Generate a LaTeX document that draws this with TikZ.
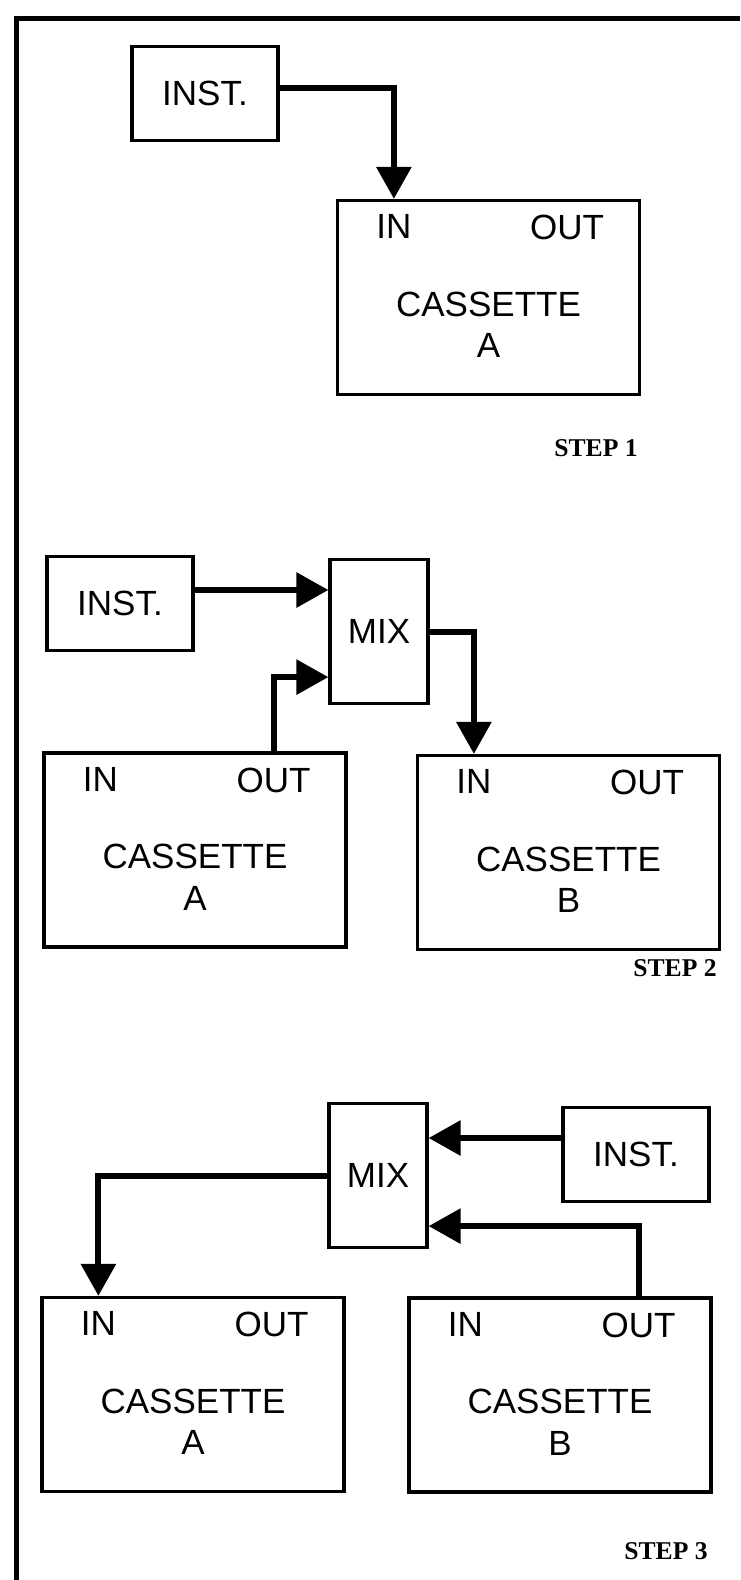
\documentclass[tikz,border=0pt]{standalone}
\usepackage{fontspec}
\setmainfont{Liberation Sans}
\newfontfamily\stepfont{Liberation Serif}
\usepackage{tikz}
\usetikzlibrary{arrows.meta}
\usetikzlibrary{positioning}

\begin{document}
\begin{tikzpicture}[x=0.5pt,y=-0.5pt,
  box/.style={draw,line width=1.6pt,inner sep=0pt,font=\fontsize{17.5}{20.75}\selectfont},
  instbox/.style={box,minimum width=73pt,minimum height=47pt},
  mixbox/.style={box,minimum width=49pt,minimum height=72pt},
  cassette/.style={box,minimum width=151pt,minimum height=97pt},
  port/.style={inner sep=0pt,font=\fontsize{17.5}{20.75}\selectfont},
  deck/.style={inner sep=0pt,align=center,font=\fontsize{17.5}{20.75}\selectfont},
  steplabel/.style={inner sep=0pt,font=\stepfont\bfseries\fontsize{12.8}{14}\selectfont},
  signal/.style={line width=3pt,arrows={-Triangle[width=17pt,length=16pt]}}]
\useasboundingbox (0,0) rectangle (740,1580);
\draw[line width=2.5pt] (740,18) -| (16,1580);

\node[instbox] (inst1) at (205,93.5) {INST.};
\node[cassette] (cas1) at (488.5,297.5) {};
\node[port] (in1) at ([shift={(58,28)}]cas1.north west) {IN};
\node[port] (out1) at ([shift={(-74,29)}]cas1.north east) {OUT};
\node[deck] (deck1) at ([yshift=-13.75pt]cas1.center) {CASSETTE\\A};
\node[steplabel] (step1) at (596,448.5) {STEP 1};
\draw[signal] ([yshift=2.75pt]inst1.east) -| (in1 |- cas1.north);

\node[instbox] (inst2) at (120,603.5) {INST.};
\node[mixbox] (mix2) at (379,631.5) {MIX};
\node[cassette] (cas2a) at (195,850) {};
\node[port] (in2a) at ([shift={(58,28)}]cas2a.north west) {IN};
\node[port] (out2a) at ([shift={(-74,29)}]cas2a.north east) {OUT};
\node[deck] (deck2a) at ([yshift=-13.75pt]cas2a.center) {CASSETTE\\A};
\node[cassette] (cas2b) at (568.5,852.5) {};
\node[port] (in2b) at ([shift={(58,28)}]cas2b.north west) {IN};
\node[port] (out2b) at ([shift={(-74,29)}]cas2b.north east) {OUT};
\node[deck] (deck2b) at ([yshift=-13.75pt]cas2b.center) {CASSETTE\\B};
\node[steplabel] (step2) at (675,968) {STEP 2};
\draw[signal] ([yshift=6.75pt]inst2.east) -- ([yshift=6.75pt]inst2.east -| mix2.west);
\draw[signal] (out2a |- cas2a.north) |- ([yshift=14pt]mix2.south west);
\draw[signal] (mix2.east) -| (in2b |- cas2b.north);

\node[mixbox] (mix3) at (378,1175.5) {MIX};
\node[instbox] (inst3) at (636,1154.5) {INST.};
\node[cassette] (cas3a) at (193,1394.5) {};
\node[port] (in3a) at ([shift={(58,28)}]cas3a.north west) {IN};
\node[port] (out3a) at ([shift={(-74,29)}]cas3a.north east) {OUT};
\node[deck] (deck3a) at ([yshift=-13.75pt]cas3a.center) {CASSETTE\\A};
\node[cassette] (cas3b) at (560,1395) {};
\node[port] (in3b) at ([shift={(58,28)}]cas3b.north west) {IN};
\node[port] (out3b) at ([shift={(-74,29)}]cas3b.north east) {OUT};
\node[deck] (deck3b) at ([yshift=-13.75pt]cas3b.center) {CASSETTE\\B};
\node[steplabel] (step3) at (666,1551) {STEP 3};
\draw[signal] ([yshift=8.25pt]inst3.west) -- ([yshift=8.25pt]inst3.west -| mix3.east);
\draw[signal] (out3b |- cas3b.north) |- ([yshift=11.5pt]mix3.south east);
\draw[signal] (mix3.west) -| (in3a |- cas3a.north);
\end{tikzpicture}
\end{document}
